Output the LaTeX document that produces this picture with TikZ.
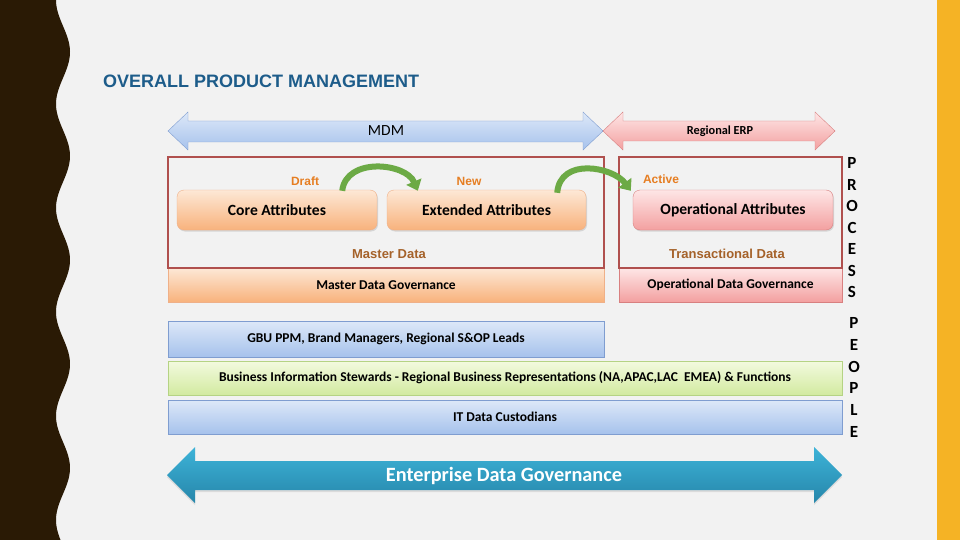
\documentclass[tikz,border=0pt]{standalone}
\usepackage{fontspec}
\setmainfont{Carlito}
\newfontfamily\arialf{Liberation Sans}
\usetikzlibrary{shadows,arrows.meta}
\definecolor{bgc}{HTML}{F2F2F2}
\definecolor{darkband}{HTML}{2A1A05}
\definecolor{orband}{HTML}{F5B325}
\definecolor{titlec}{HTML}{1D5C8A}
\definecolor{bluetop}{HTML}{DDE8F8}
\definecolor{bluebot}{HTML}{A6C2EC}
\definecolor{blueedge}{HTML}{7F9DD0}
\definecolor{pinktop}{HTML}{FEE6E6}
\definecolor{pinkbot}{HTML}{F3A0A0}
\definecolor{pinkedge}{HTML}{D88080}
\definecolor{ortop}{HTML}{FDE8D6}
\definecolor{orbot}{HTML}{F8B27C}
\definecolor{oredge}{HTML}{EFB088}
\definecolor{redbox}{HTML}{B0504E}
\definecolor{lblor}{HTML}{E67E22}
\definecolor{lblbr}{HTML}{A5622A}
\definecolor{greentop}{HTML}{F3FADF}
\definecolor{greenbot}{HTML}{D2EAA0}
\definecolor{greenedge}{HTML}{B5D384}
\definecolor{tealtop}{HTML}{3DB3D8}
\definecolor{tealbot}{HTML}{2686AA}
\definecolor{arrgreen}{HTML}{6CAA45}
\tikzset{
  attrbox/.style={rounded corners=7pt, inner sep=0pt, minimum width=200pt, minimum height=40pt,
    font=\fontsize{15.6}{18}\selectfont\bfseries,
    drop shadow={opacity=0.25, shadow xshift=1pt, shadow yshift=-1.5pt}},
  orbox/.style={draw=oredge, top color=ortop, bottom color=orbot},
  pkbox/.style={draw=pinkedge, top color=pinktop, bottom color=pinkbot},
  bandbox/.style={inner sep=0pt, font=\fontsize{13.5}{16}\selectfont\bfseries},
  bluebox/.style={bandbox, draw=blueedge, top color=bluetop, bottom color=bluebot},
  greenbox/.style={bandbox, draw=greenedge, top color=greentop, bottom color=greenbot},
  frame/.style={draw=redbox, line width=1.8pt, inner sep=0pt},
  stagelbl/.style={text=lblor, font=\arialf\fontsize{12}{14}\selectfont\bfseries},
  datalbl/.style={text=lblbr, font=\arialf\fontsize{13}{15}\selectfont\bfseries},
  letter/.style={font=\fontsize{17}{20}\selectfont\bfseries, inner sep=0pt},
  curvearr/.style={draw=arrgreen, line width=6pt, -{Triangle[width=16pt,length=10pt]}},
}
\begin{document}
\begin{tikzpicture}[x=1pt,y=-1pt]
\useasboundingbox (0,0) rectangle (960,540);
\fill[bgc] (0,0) rectangle (960,540);
\fill[darkband] (0,0) -- plot[domain=0:540, samples=220, variable=\t] ({63-7*cos(3.4615*\t)},\t) -- (0,540) -- cycle;
\fill[orband] (937,0) rectangle (960,540);

\node[anchor=west, text=titlec, font=\arialf\fontsize{18}{20}\selectfont\bfseries, inner sep=0pt] (title) at (103,81) {OVERALL PRODUCT MANAGEMENT};

% MDM arrow
\path[draw=blueedge, top color=bluetop, bottom color=bluebot]
  (168,131) -- (188,112) -- (188,121) -- (583,121) -- (583,112) -- (603,131)
  -- (583,150) -- (583,142) -- (188,142) -- (188,150) -- cycle;
\node[font=\fontsize{15.5}{18}\selectfont] (mdm) at (386,131) {MDM};

% Regional ERP arrow
\path[draw=pinkedge, top color=pinktop, bottom color=pinkbot]
  (603,131) -- (623,112) -- (623,121) -- (815,121) -- (815,112) -- (835,131)
  -- (815,150) -- (815,141) -- (623,141) -- (623,150) -- cycle;
\node[font=\fontsize{12.3}{14}\selectfont\bfseries] (erp) at (720,131) {Regional ERP};

% Governance boxes
\node[bandbox, orbox, minimum width=436pt, minimum height=34pt] (mdg) at (386,285) {Master Data Governance};
\node[bandbox, pkbox, minimum width=223pt, minimum height=34pt] (odg) at (730.5,285) {Operational Data Governance};

% Frames
\node[frame, minimum width=436pt, minimum height=111pt] (mdframe) at (386,212.5) {};
\node[frame, minimum width=223pt, minimum height=111pt] (tdframe) at (730.5,212.5) {};

% Attribute boxes
\node[attrbox, orbox] (core) at (277,210) {Core Attributes};
\node[attrbox, orbox, minimum width=199pt] (ext) at (486.5,210) {Extended Attributes};
\node[attrbox, pkbox] (oper) at (733,210) {Operational Attributes};

\node[stagelbl] (draft) at (305,181) {Draft};
\node[stagelbl] (new) at (469,181) {New};
\node[stagelbl] (active) at (661,179) {Active};

\node[datalbl] (mdata) at (389,254) {Master Data};
\node[datalbl] (tdata) at (727,254) {Transactional Data};

% green curved arrows
\draw[curvearr] ([xshift=-35pt,yshift=-1pt]core.north east) .. controls +(4,-34) and +(-12,-28) .. ([xshift=31pt,yshift=-1pt]ext.north west);
\draw[curvearr] ([xshift=-29pt,yshift=-3pt]ext.north east) .. controls +(3,-36) and +(-18,-24) .. ([xshift=-2pt,yshift=-1pt]oper.north west);

% People bands
\node[bluebox, minimum width=436pt, minimum height=36pt] (gbu) at (386,339) {GBU PPM, Brand Managers, Regional S\&OP Leads};
\node[greenbox, minimum width=674pt, minimum height=34pt] (bis) at (505,378) {Business Information Stewards - Regional Business Representations (NA,APAC,LAC\ \ EMEA) \& Functions};
\node[bluebox, minimum width=674pt, minimum height=34pt] (itc) at (505,417) {IT Data Custodians};

% Enterprise arrow
\path[top color=tealtop, bottom color=tealbot, drop shadow={opacity=0.2, shadow xshift=0pt, shadow yshift=-2pt}]
  (167,475) -- (195,447) -- (195,461) -- (814,461) -- (814,447) -- (842,475)
  -- (814,503) -- (814,490) -- (195,490) -- (195,503) -- cycle;
\node[text=white, font=\fontsize{20.3}{24}\selectfont\bfseries] (edg) at (504,476) {Enterprise Data Governance};

% PROCESS / PEOPLE letters
\foreach \l [count=\i] in {P,R,O,C,E,S,S}
  \node[letter] (proc\i) at (852,{163+21.5*(\i-1)}) {\l};
\foreach \l [count=\i] in {P,E,O,P,L,E}
  \node[letter] (peop\i) at (854,{323+21.8*(\i-1)}) {\l};
\end{tikzpicture}
\end{document}
